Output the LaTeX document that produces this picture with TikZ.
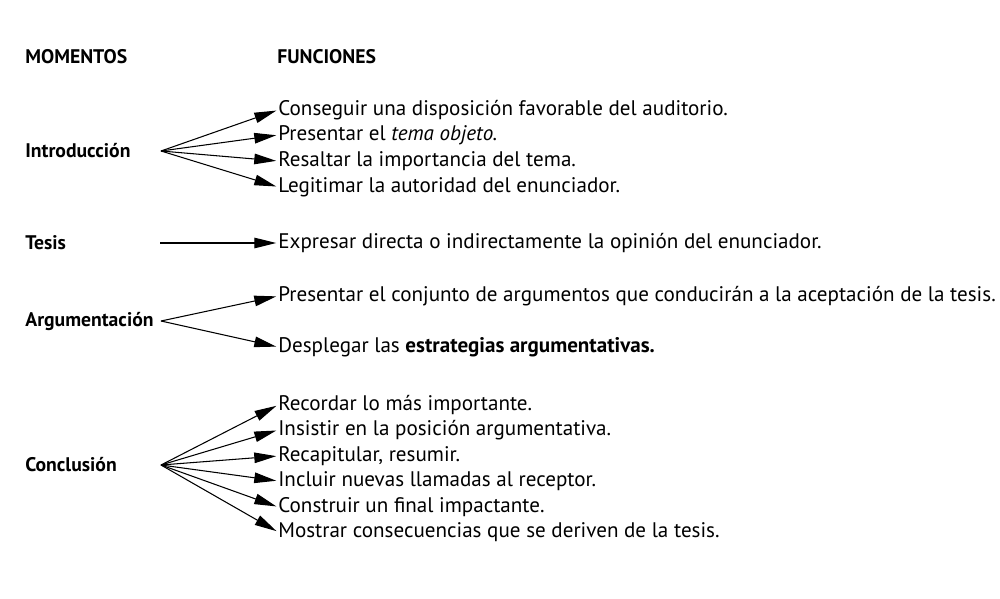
\documentclass[tikz,border=0pt]{standalone}
\usepackage{fontspec}
\setmainfont{PT Sans}
\usetikzlibrary{arrows.meta}
\begin{document}
\begin{tikzpicture}[x=0.02cm,y=-0.02cm,
  lbl/.style={anchor=west,inner sep=0pt,font=\fontsize{12pt}{14pt}\selectfont},
  head/.style={anchor=west,inner sep=0pt,font=\fontsize{11.2pt}{13pt}\selectfont\bfseries},
  arr/.style={-{Triangle[length=12.5pt,width=6pt]},line width=0.6pt,shorten >=1pt}]
\useasboundingbox (0,0) rectangle (1000,598);
\node[head] (hm) at (25,57) {MOMENTOS};
\node[head] (hf) at (277,57) {FUNCIONES};
% Introduccion
\node[head] (intro) at (25,151) {Introducción};
\coordinate (si) at (161,151);
\node[lbl] (i1) at (278,110) {Conseguir una disposición favorable del auditorio.};
\node[lbl] (i2) at (278,135) {Presentar el \textit{tema objeto.}};
\node[lbl] (i3) at (278,161) {Resaltar la importancia del tema.};
\node[lbl] (i4) at (278,187) {Legitimar la autoridad del enunciador.};
\foreach \t in {i1,i2,i3,i4} \draw[arr] (si) -- (\t.west);
% Tesis
\node[head] (tesis) at (25,243) {Tesis};
\coordinate (st) at (160,243);
\node[lbl] (t1) at (278,243) {Expresar directa o indirectamente la opinión del enunciador.};
\draw[arr] (st) -- (t1.west);
% Argumentacion
\node[head] (arg) at (25,321) {Argumentación};
\coordinate (sa) at (161,321);
\node[lbl] (a1) at (278,296) {Presentar el conjunto de argumentos que conducirán a la aceptación de la tesis.};
\node[lbl] (a2) at (278,347) {Desplegar las \textbf{estrategias argumentativas.}};
\foreach \t in {a1,a2} \draw[arr] (sa) -- (\t.west);
% Conclusion
\node[head] (conc) at (25,465) {Conclusión};
\coordinate (sc) at (161,465);
\node[lbl] (c1) at (278,405) {Recordar lo más importante.};
\node[lbl] (c2) at (278,430) {Insistir en la posición argumentativa.};
\node[lbl] (c3) at (278,456) {Recapitular, resumir.};
\node[lbl] (c4) at (278,481) {Incluir nuevas llamadas al receptor.};
\node[lbl] (c5) at (278,507) {Construir un final impactante.};
\node[lbl] (c6) at (278,532) {Mostrar consecuencias que se deriven de la tesis.};
\foreach \t in {c1,c2,c3,c4,c5,c6} \draw[arr] (sc) -- (\t.west);
\end{tikzpicture}
\end{document}
